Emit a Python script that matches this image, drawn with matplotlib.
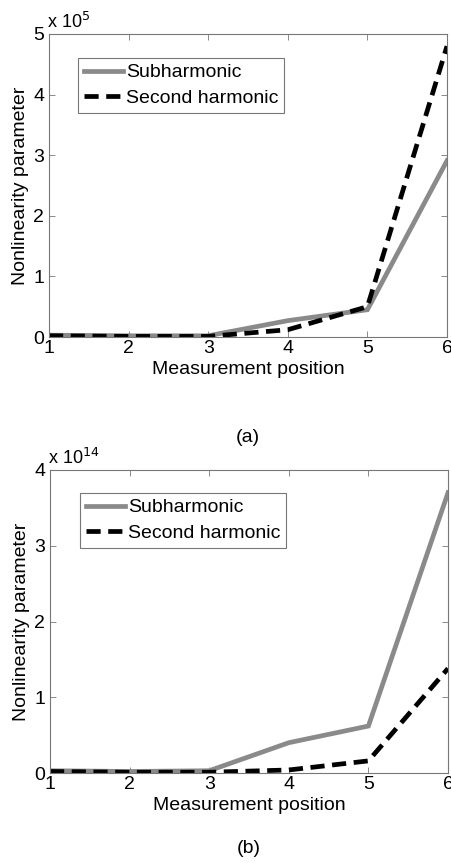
import matplotlib
matplotlib.use("Agg")
import matplotlib.pyplot as plt
import numpy as np

plt.rcParams['font.family'] = ['Liberation Sans', 'DejaVu Sans']

positions = [1, 2, 3, 4, 5, 6]
# panel (a), values in units of 1e5
a_sub = [0.03, 0.02, 0.02, 0.27, 0.45, 2.91]
a_sec = [0.02, 0.01, 0.01, 0.12, 0.50, 4.80]
# panel (b), values in units of 1e14
b_sub = [0.03, 0.02, 0.03, 0.40, 0.62, 3.70]
b_sec = [0.02, 0.01, 0.01, 0.04, 0.16, 1.38]

a_yticks = [0, 1, 2, 3, 4, 5]
b_yticks = [0, 1, 2, 3, 4]
xticks = [1, 2, 3, 4, 5, 6]

fig = plt.figure(figsize=(4.52, 8.63), dpi=100)
W, H = 452, 863

def make_axes(l, r, t, b):
    return fig.add_axes([l / W, 1 - b / H, (r - l) / W, (b - t) / H])

def style(ax, ymax, yticks, exp, sub, sec, legend_box, caption):
    ax.plot(positions, sub, color='#8a8a8a', lw=3.4, solid_joinstyle='miter', label='Subharmonic')
    ax.plot(positions, sec, color='black', lw=3.4, ls=(0, (3, 1.6)), label='Second harmonic')
    ax.set_xlim(1, 6)
    ax.set_ylim(0, ymax)
    ax.set_xticks(xticks)
    ax.set_yticks(yticks)
    ax.tick_params(direction='in', top=True, right=True, length=4, width=0.6,
                   colors='#777777', labelcolor='black', labelsize=14, pad=2)
    ax.tick_params(axis='y', pad=3.5)
    for s in ax.spines.values():
        s.set_color('#777777')
        s.set_linewidth(0.8)
    ax.set_xlabel('Measurement position', fontsize=14, labelpad=3)
    ax.set_ylabel('Nonlinearity parameter', fontsize=14, labelpad=3)
    ax.text(-0.005, 1.005, r'x 10$^{%d}$' % exp, transform=ax.transAxes, fontsize=13,
            ha='left', va='bottom')
    leg = ax.legend(loc='upper left', bbox_to_anchor=legend_box, fontsize=14,
                    frameon=True, fancybox=False, handlelength=2.0, handletextpad=0.15,
                    borderpad=0.3, labelspacing=0.4, borderaxespad=0)
    leg.get_frame().set_edgecolor('#555555')
    leg.get_frame().set_linewidth(0.8)
    ax.text(0.5, caption, '(a)' if exp == 5 else '(b)', transform=ax.transAxes,
            fontsize=14, ha='center', va='center')

ax1 = make_axes(49, 447, 34, 337)
style(ax1, 5, a_yticks, 5, a_sub, a_sec, ((78 - 49) / 398, (337 - 58) / 303), -(437 - 337) / 303)

ax2 = make_axes(50, 448, 470, 773)
style(ax2, 4, b_yticks, 14, b_sub, b_sec, ((80 - 50) / 398, (773 - 493) / 303), -(848 - 773) / 303)

fig.savefig('out.png', dpi=100)
